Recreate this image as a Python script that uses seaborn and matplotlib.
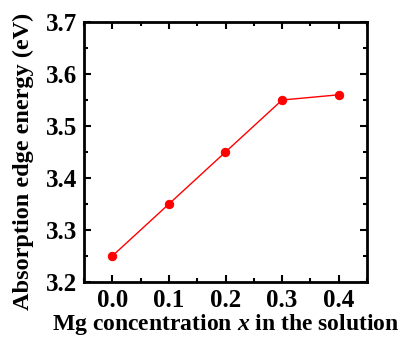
import matplotlib
matplotlib.use("Agg")
import matplotlib.pyplot as plt
import seaborn as sns
import pandas as pd
from matplotlib.ticker import MultipleLocator, FormatStrFormatter

x_vals = [0.0, 0.1, 0.2, 0.3, 0.4]
energy = [3.25, 3.35, 3.45, 3.55, 3.56]

sns.set_style("ticks")
plt.rcParams['font.family'] = ['Liberation Serif', 'DejaVu Serif']
plt.rcParams['font.weight'] = 'bold'
plt.rcParams['mathtext.fontset'] = 'custom'
plt.rcParams['mathtext.it'] = 'Liberation Serif:italic:bold'
for k in ['text.color', 'axes.labelcolor', 'xtick.color', 'ytick.color',
          'axes.edgecolor']:
    plt.rcParams[k] = 'black'

df = pd.DataFrame({"x": x_vals, "E": energy})

fig = plt.figure(figsize=(4.06, 3.38), dpi=100)
ax = fig.add_axes([84/406, 1-282/338, (367-84)/406, (282-22)/338])
sns.lineplot(data=df, x="x", y="E", ax=ax, color="red", linewidth=1.0,
             marker="o", markersize=6, markeredgecolor="red")
ax.set_xlim(-0.05, 0.45)
ax.set_ylim(3.2, 3.7)
ax.xaxis.set_major_locator(MultipleLocator(0.1))
ax.xaxis.set_minor_locator(MultipleLocator(0.05))
ax.yaxis.set_major_locator(MultipleLocator(0.1))
ax.yaxis.set_minor_locator(MultipleLocator(0.05))
ax.xaxis.set_major_formatter(FormatStrFormatter('%.1f'))
ax.yaxis.set_major_formatter(FormatStrFormatter('%.1f'))
ax.tick_params(which='both', direction='in', top=True, right=True, width=1.5,
               labelsize=18, colors='black')
ax.tick_params(which='major', length=5, pad=5)
ax.tick_params(which='minor', length=3)
for s in ax.spines.values():
    s.set_linewidth(2)
    s.set_color('black')
ax.set_xlabel(r"Mg concentration $\mathit{x}$ in the solution", fontsize=17,
              fontweight='bold', labelpad=0, color='black')
ax.set_ylabel("Absorption edge energy (eV)", fontsize=17.5, fontweight='bold',
              color='black')
ax.yaxis.set_label_coords(-0.175, 0.465)
fig.savefig("out.png", dpi=100)
